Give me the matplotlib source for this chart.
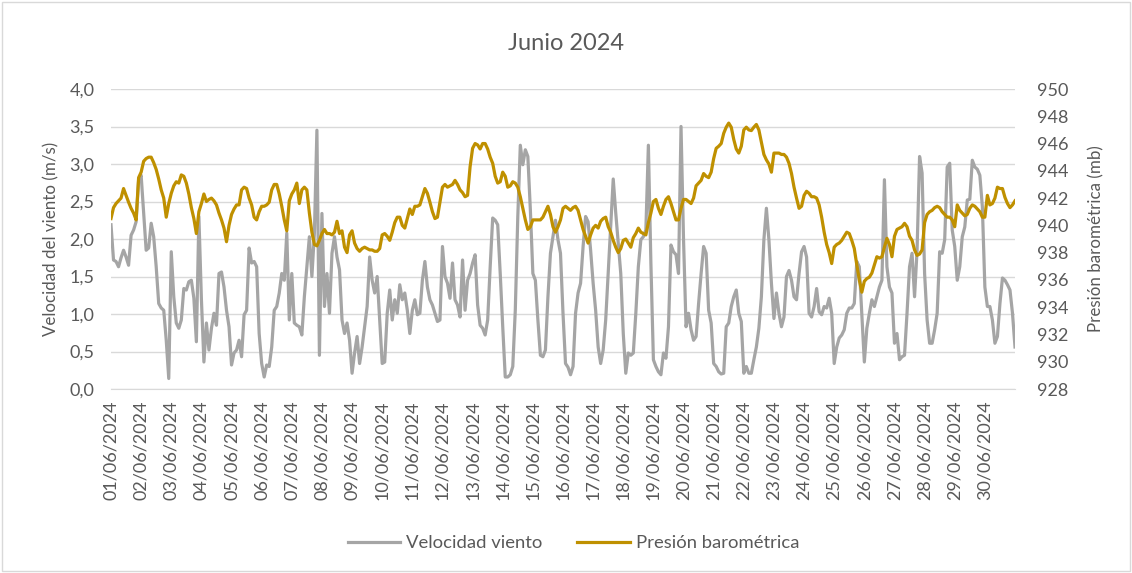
import numpy as np
import pandas as pd
import matplotlib
matplotlib.use('Agg')
import matplotlib.pyplot as plt
import matplotlib.dates as mdates
from matplotlib.patches import Rectangle
from matplotlib.ticker import FuncFormatter

plt.rcParams['font.family'] = ['Lato', 'DejaVu Sans']

# datos leidos cada 2 horas, junio 2024
fechas = pd.date_range('2024-06-01 00:00', '2024-07-01 00:00', freq='2h')

velocidad_viento = [
    2.19, 1.72, 1.70, 1.63, 1.75, 1.85, 1.76, 1.65, 2.05, 2.12,
    2.23, 2.79, 2.85, 2.34, 1.85, 1.88, 2.21, 2.03, 1.63, 1.14,
    1.08, 1.05, 0.65, 0.14, 1.83, 1.23, 0.88, 0.81, 0.92, 1.34,
    1.32, 1.43, 1.45, 1.21, 0.63, 2.30, 1.20, 0.36, 0.88, 0.52,
    0.81, 1.01, 0.85, 1.54, 1.56, 1.36, 1.05, 0.83, 0.32, 0.48,
    0.52, 0.65, 0.43, 0.99, 1.05, 1.88, 1.68, 1.70, 1.63, 0.74,
    0.34, 0.16, 0.32, 0.30, 0.56, 1.05, 1.10, 1.28, 1.54, 1.45,
    2.08, 0.92, 1.54, 0.88, 0.85, 0.83, 0.72, 1.23, 1.63, 2.03,
    1.50, 2.08, 3.45, 0.45, 2.34, 1.10, 1.54, 1.01, 1.81, 2.03,
    1.76, 1.59, 0.92, 0.74, 0.88, 0.65, 0.21, 0.48, 0.70, 0.34,
    0.56, 0.83, 1.10, 1.76, 1.45, 1.28, 1.50, 0.92, 0.34, 0.36,
    1.01, 1.32, 0.92, 1.19, 1.01, 1.39, 1.19, 1.28, 1.05, 0.74,
    1.05, 1.19, 0.99, 1.01, 1.45, 1.70, 1.36, 1.19, 1.12, 1.01,
    0.90, 0.92, 1.90, 1.50, 1.41, 1.21, 1.68, 1.19, 1.12, 0.96,
    1.72, 1.05, 1.45, 1.54, 1.68, 1.79, 1.12, 0.85, 0.81, 0.72,
    0.92, 1.63, 2.28, 2.25, 2.19, 1.54, 0.83, 0.16, 0.16, 0.19,
    0.30, 1.05, 2.30, 3.25, 2.99, 3.19, 3.10, 2.39, 1.54, 1.45,
    0.92, 0.45, 0.43, 0.52, 1.23, 1.81, 2.03, 2.25, 1.99, 1.81,
    1.01, 0.34, 0.29, 0.19, 0.30, 1.01, 1.28, 1.41, 1.90, 2.30,
    2.23, 1.85, 1.41, 1.05, 0.56, 0.34, 0.52, 0.92, 1.54, 2.16,
    2.80, 2.35, 1.94, 1.54, 0.74, 0.21, 0.48, 0.45, 0.48, 1.01,
    1.63, 1.99, 2.03, 2.12, 3.25, 1.68, 0.39, 0.30, 0.23, 0.19,
    0.48, 0.41, 0.83, 1.92, 1.83, 1.79, 1.54, 3.50, 1.99, 0.83,
    1.01, 0.79, 0.65, 0.70, 1.14, 1.54, 1.90, 1.81, 1.05, 0.88,
    0.34, 0.30, 0.23, 0.20, 0.21, 0.83, 0.88, 1.10, 1.23, 1.32,
    1.01, 0.90, 0.21, 0.30, 0.21, 0.21, 0.39, 0.56, 0.81, 1.23,
    1.99, 2.41, 1.99, 1.41, 0.94, 1.28, 1.01, 0.83, 0.96, 1.50,
    1.58, 1.45, 1.23, 1.19, 1.54, 1.83, 1.90, 1.76, 1.01, 0.96,
    1.10, 1.34, 1.03, 0.99, 1.10, 1.08, 1.21, 1.01, 0.34, 0.56,
    0.68, 0.72, 0.79, 1.01, 1.08, 1.08, 1.14, 1.70, 1.63, 1.00,
    0.36, 0.81, 1.01, 1.19, 1.10, 1.23, 1.36, 1.45, 2.79, 1.63,
    1.36, 1.28, 0.61, 0.74, 0.39, 0.43, 0.45, 1.01, 1.63, 1.81,
    1.23, 1.85, 3.10, 2.88, 1.54, 0.92, 0.61, 0.61, 0.79, 1.01,
    1.83, 1.81, 1.99, 2.96, 3.01, 2.12, 1.90, 1.45, 1.63, 2.03,
    2.16, 2.52, 2.53, 3.05, 2.96, 2.93, 2.85, 2.43, 1.36, 1.10,
    1.10, 0.92, 0.61, 0.70, 1.14, 1.48, 1.45, 1.39, 1.32, 1.01,
    0.56,
]

presion = [
    940.5, 941.3, 941.6, 941.8, 942.0, 942.7, 942.2, 941.7, 941.25, 940.9,
    940.4, 943.5, 943.9, 944.7, 944.9, 945.0, 945.0, 944.6, 944.1, 943.4,
    942.6, 942.0, 940.6, 941.6, 942.35, 942.9, 943.2, 943.1, 943.7, 943.6,
    943.1, 942.3, 941.3, 940.5, 939.4, 941.0, 941.6, 942.3, 941.75, 941.9,
    942.0, 941.8, 941.5, 940.9, 940.4, 939.8, 938.8, 940.0, 940.8, 941.2,
    941.5, 941.5, 942.6, 942.8, 942.7, 942.0, 941.5, 940.6, 940.4, 941.0,
    941.4, 941.4, 941.5, 941.7, 942.6, 943.0, 943.0, 942.3, 941.4, 940.4,
    939.6, 941.8, 942.3, 942.6, 943.1, 941.6, 942.6, 942.8, 942.6, 940.9,
    939.5, 938.6, 938.5, 938.9, 939.4, 939.7, 939.4, 939.4, 939.3, 939.5,
    940.3, 939.4, 939.6, 938.4, 938.0, 939.3, 939.6, 938.7, 938.3, 938.1,
    938.3, 938.4, 938.3, 938.2, 938.2, 938.1, 938.1, 938.3, 939.3, 939.4,
    939.2, 938.9, 939.5, 940.2, 940.6, 940.6, 940.0, 939.8, 940.5, 941.2,
    940.8, 941.4, 941.4, 941.5, 942.1, 942.7, 942.35, 941.7, 941.0, 940.5,
    940.6, 941.7, 942.8, 943.0, 942.8, 942.9, 943.0, 943.3, 943.0, 942.6,
    942.4, 942.1, 942.2, 944.3, 945.65, 946.0, 945.9, 945.6, 946.0, 946.0,
    945.6, 945.0, 944.55, 943.6, 943.1, 943.2, 943.9, 943.6, 942.8, 942.9,
    943.2, 943.1, 942.8, 942.1, 941.25, 940.4, 939.7, 939.9, 940.4, 940.4,
    940.4, 940.4, 940.6, 941.0, 941.4, 940.8, 939.9, 939.5, 939.9, 940.4,
    941.25, 941.4, 941.25, 941.1, 941.3, 941.4, 941.1, 940.4, 939.7, 939.2,
    938.7, 939.3, 939.8, 940.0, 939.8, 940.3, 940.5, 940.6, 939.9, 939.5,
    938.9, 938.4, 938.0, 938.3, 938.9, 939.0, 938.7, 938.4, 939.1, 939.4,
    939.8, 939.5, 939.4, 939.3, 940.2, 940.9, 941.75, 941.9, 941.25, 940.8,
    941.4, 941.9, 942.1, 941.6, 941.0, 940.4, 940.4, 941.25, 941.9, 941.9,
    941.75, 941.6, 942.0, 942.9, 943.1, 943.3, 943.8, 943.6, 943.5, 943.9,
    944.9, 945.65, 945.8, 946.0, 946.75, 947.2, 947.5, 947.2, 946.3, 945.6,
    945.3, 945.8, 947.0, 947.2, 947.0, 946.95, 947.2, 947.4, 947.0, 946.1,
    945.2, 944.8, 944.5, 943.9, 945.3, 945.3, 945.3, 945.2, 945.2, 945.0,
    944.55, 943.8, 942.8, 942.0, 941.25, 941.4, 942.2, 942.5, 942.35, 942.1,
    942.1, 942.0, 941.5, 940.6, 939.5, 938.6, 938.0, 937.2, 938.4, 938.6,
    938.7, 938.9, 939.2, 939.5, 939.4, 938.9, 938.3, 937.1, 936.0, 935.1,
    935.9, 936.1, 936.2, 936.5, 937.1, 937.7, 937.6, 937.7, 938.4, 939.05,
    938.6, 937.7, 939.2, 939.7, 939.8, 939.9, 940.15, 939.9, 939.2, 938.9,
    938.2, 937.8, 937.9, 938.2, 940.2, 940.8, 941.0, 941.1, 941.3, 941.4,
    941.3, 941.0, 940.8, 940.6, 940.6, 940.4, 939.9, 941.5, 941.1, 940.9,
    940.7, 940.8, 941.25, 941.5, 941.4, 941.2, 941.0, 940.6, 940.6, 942.2,
    941.5, 941.6, 942.0, 942.8, 942.7, 942.7, 942.05, 941.6, 941.3, 941.5,
    941.8,
]

dias = pd.date_range('2024-06-01', '2024-06-30', freq='D')

gris_texto = '#595959'
gris_rejilla = '#D9D9D9'

fig = plt.figure(figsize=(11.32, 5.73), dpi=100)
ax = fig.add_axes([111 / 1132, 1 - 389 / 573, 904 / 1132, 300 / 573])
ax2 = ax.twinx()

l1, = ax.plot(fechas, velocidad_viento, color='#A5A5A5', lw=2.3, label='Velocidad viento')
l2, = ax2.plot(fechas, presion, color='#BF9000', lw=2.3, label='Presión barométrica')

ax.set_xlim(fechas[0], fechas[-1])
ax.set_ylim(0, 4)
ax2.set_ylim(928, 950)
ax.set_yticks(np.arange(0, 4.01, 0.5))
ax2.set_yticks(np.arange(928, 951, 2))
ax.yaxis.set_major_formatter(FuncFormatter(lambda v, p: f'{v:.1f}'.replace('.', ',')))

ax.set_xticks(dias)
ax.xaxis.set_major_formatter(mdates.DateFormatter('%d/%m/%Y'))
plt.setp(ax.get_xticklabels(), rotation=90)

ax.grid(axis='y', color=gris_rejilla, lw=1)
ax.set_axisbelow(True)
for a in (ax, ax2):
    for s in ('top', 'left', 'right', 'bottom'):
        a.spines[s].set_visible(False)
ax.spines['bottom'].set_visible(True)
ax.spines['bottom'].set_color(gris_rejilla)

ax.tick_params(axis='y', length=0, pad=12, labelsize=13, labelcolor=gris_texto)
ax.tick_params(axis='x', length=0, pad=8, labelsize=13, labelcolor=gris_texto)
ax2.tick_params(axis='y', length=0, pad=16, labelsize=13, labelcolor=gris_texto)

ax.set_ylabel('Velocidad del viento (m/s)', fontsize=12.2, color=gris_texto)
ax.yaxis.set_label_coords(-0.0575, 0.5)
ax2.set_ylabel('Presión barométrica (mb)', fontsize=12.2, color=gris_texto, rotation=90)
ax2.yaxis.set_label_coords(1.081, 0.5)

fig.text(0.5, 1 - 44 / 573, 'Junio 2024', ha='center', va='center', fontsize=17, color=gris_texto)

fig.legend(handles=[l1, l2], loc='center', bbox_to_anchor=(0.5065, 1 - 543 / 573), ncol=2,
           frameon=False, fontsize=13.3, handlelength=2.85, handletextpad=0.3,
           columnspacing=1.9, labelcolor=gris_texto)

fig.patches.append(Rectangle((0.002, 0.003), 0.996, 0.994, transform=fig.transFigure,
                             fill=False, edgecolor=gris_rejilla, lw=1))

fig.savefig('out.png', dpi=100)
